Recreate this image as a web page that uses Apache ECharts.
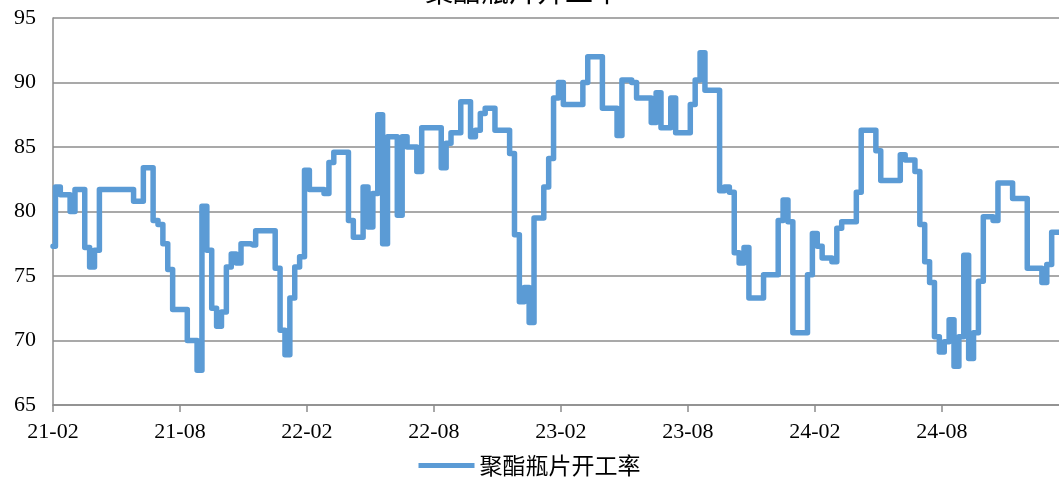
<!DOCTYPE html>
<html>
<head>
<meta charset="utf-8">
<script src="https://cdn.jsdelivr.net/npm/echarts@6/dist/echarts.min.js"></script>
<style>
html,body{margin:0;padding:0;background:#fff;}
#c{width:1059px;height:484px;}
</style>
</head>
<body>
<div id="c"></div>
<script>
// Weekly observation dates (Fridays), starting 2021-02-05
const weekCount = 207;
const dates = [];
(function () {
  const t0 = Date.UTC(2021, 1, 5);
  for (let i = 0; i < weekCount; i++) {
    const d = new Date(t0 + i * 7 * 86400000);
    const y = d.getUTCFullYear();
    const m = String(d.getUTCMonth() + 1).padStart(2, '0');
    const dd = String(d.getUTCDate()).padStart(2, '0');
    dates.push(y + '-' + m + '-' + dd);
  }
})();

const seriesName = '聚酯瓶片开工率';
const titleText = '聚酯瓶片开工率';

// 聚酯瓶片开工率 (%), weekly
const rates = [
  77.3, 81.9, 81.3, 81.3, 80.0, 81.7, 81.7, 77.2, 75.7, 77.0,
  81.7, 81.7, 81.7, 81.7, 81.7, 81.7, 81.7, 80.8, 80.8, 83.4,
  83.4, 79.3, 79.0, 77.5, 75.5, 72.4, 72.4, 72.4, 70.0, 70.0,
  67.7, 80.4, 77.0, 72.5, 71.1, 72.2, 75.7, 76.7, 76.0, 77.5,
  77.5, 77.4, 78.5, 78.5, 78.5, 78.5, 75.6, 70.8, 68.9, 73.3,
  75.7, 76.5, 83.2, 81.7, 81.7, 81.7, 81.4, 83.8, 84.6, 84.6,
  84.6, 79.3, 78.0, 78.0, 81.9, 78.8, 81.4, 87.5, 77.5, 85.8,
  85.8, 79.7, 85.8, 85.0, 85.0, 83.1, 86.5, 86.5, 86.5, 86.5,
  83.4, 85.3, 86.1, 86.1, 88.5, 88.5, 85.8, 86.3, 87.6, 88.0,
  88.0, 86.3, 86.3, 86.3, 84.5, 78.2, 73.0, 74.1, 71.4, 79.5,
  79.5, 81.9, 84.1, 88.8, 90.0, 88.3, 88.3, 88.3, 88.3, 90.0,
  92.0, 92.0, 92.0, 88.0, 88.0, 88.0, 85.9, 90.2, 90.2, 90.0,
  88.8, 88.8, 88.8, 86.9, 89.2, 86.5, 86.5, 88.8, 86.1, 86.1,
  86.1, 88.3, 90.2, 92.3, 89.4, 89.4, 89.4, 81.6, 81.9, 81.5,
  76.8, 76.0, 77.2, 73.3, 73.3, 73.3, 75.1, 75.1, 75.1, 79.3,
  80.9, 79.2, 70.6, 70.6, 70.6, 75.1, 78.3, 77.3, 76.4, 76.4,
  76.1, 78.7, 79.2, 79.2, 79.2, 81.5, 86.3, 86.3, 86.3, 84.7,
  82.4, 82.4, 82.4, 82.4, 84.4, 84.0, 84.0, 83.1, 79.0, 76.1,
  74.5, 70.3, 69.1, 69.9, 71.6, 68.0, 70.3, 76.6, 68.6, 70.6,
  74.6, 79.6, 79.6, 79.3, 82.2, 82.2, 82.2, 81.0, 81.0, 81.0,
  75.6, 75.6, 75.6, 74.5, 75.9, 78.4, 78.4
];

const yMin = 65, yMax = 95, yStep = 5;

function isHalfYearStart(idx) {
  const v = dates[idx];
  if (!v) return false;
  const m = v.slice(5, 7), d = +v.slice(8, 10);
  return (m === '02' || m === '08') && d <= 7;
}

const chart = echarts.init(document.getElementById('c'), null, { renderer: 'canvas' });
chart.setOption({
  animation: false,
  backgroundColor: '#ffffff',
  title: {
    text: titleText,
    left: 420,
    top: -28,
    textStyle: { fontFamily: 'Noto Sans CJK SC', fontSize: 28, fontWeight: 'normal', color: '#000' }
  },
  grid: { left: 53, right: 0, top: 18, bottom: 79, containLabel: false },
  legend: {
    data: [seriesName],
    bottom: 2,
    left: 'center',
    icon: 'rect',
    itemWidth: 56,
    itemHeight: 5,
    itemGap: 10,
    textStyle: { fontFamily: 'Noto Sans CJK SC', fontSize: 23, color: '#000' }
  },
  xAxis: {
    type: 'category',
    data: dates,
    boundaryGap: false,
    axisLine: { lineStyle: { color: '#8c8c8c', width: 1.5 } },
    axisTick: {
      show: true,
      interval: (i) => isHalfYearStart(i),
      length: 7,
      lineStyle: { color: '#8c8c8c', width: 1.5 }
    },
    axisLabel: {
      interval: (i) => isHalfYearStart(i),
      formatter: (v) => v.slice(2, 4) + '-' + v.slice(5, 7),
      fontFamily: 'Liberation Serif',
      fontSize: 22,
      color: '#000',
      margin: 16
    },
    splitLine: { show: false }
  },
  yAxis: {
    type: 'value',
    min: yMin,
    max: yMax,
    interval: yStep,
    axisLine: { show: true, lineStyle: { color: '#8c8c8c', width: 1.5 } },
    axisTick: { show: false },
    axisLabel: {
      fontFamily: 'Liberation Serif',
      fontSize: 22,
      color: '#000',
      margin: 17
    },
    splitLine: { show: true, lineStyle: { color: '#8c8c8c', width: 1.5 } }
  },
  series: [{
    name: seriesName,
    type: 'line',
    data: rates,
    step: 'middle',
    symbol: 'none',
    lineStyle: { color: '#5b9bd5', width: 5.5, join: 'round', cap: 'round' },
    itemStyle: { color: '#5b9bd5' }
  }]
});
</script>
</body>
</html>
